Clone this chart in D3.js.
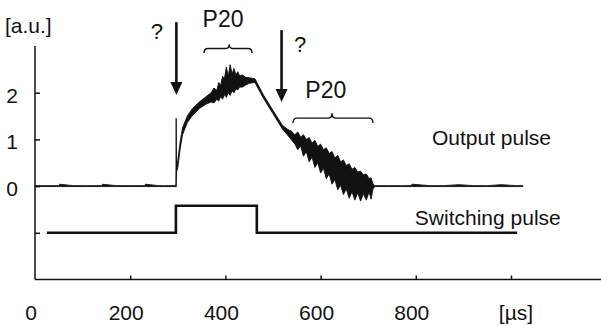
<!doctype html>
<html>
<head>
<meta charset="UTF-8">
<script src="https://d3js.org/d3.v7.min.js"></script>
<style>
  body { margin: 0; background: #fff; }
  svg text { font-family: "Liberation Sans", Arial, sans-serif; fill: #111; }
</style>
</head>
<body>
<svg id="chart"></svg>
<script>
// time axis [µs]
const xTicks = [0, 200, 400, 600, 800, 1000];
const xTickLabels = ["0", "200", "400", "600", "800", "[\u00b5s]"];
// amplitude axis [a.u.]
const yTicks = [2, 1, 0, -1];
const yTickLabels = ["2", "1", "0", ""];

// output pulse: time, upper and lower edge of the trace (oscillation band)
const outT  = [0, 25, 50, 52, 80, 110, 140, 142, 170, 200, 230, 232, 260, 270, 295,
  296, 296.6, 297.4, 300, 305, 310, 320, 330, 345, 360, 370, 376, 382, 386, 390, 394, 398, 402, 406, 410, 414, 418, 422, 426, 430, 436, 442, 450, 462,
  480, 500, 520, 530, 538, 546, 552, 558, 564, 570, 576, 582, 588, 594, 600, 606, 612, 618, 624, 630, 636, 642, 648, 654, 660, 666, 672, 678, 684, 690, 696, 702, 706, 710, 714,
  740, 770, 790, 792, 830, 860, 890, 920, 950, 980, 1010, 1025];
const outHi = [0.01, 0.01, 0.01, 0.04, 0.01, 0.01, 0.01, 0.04, 0.01, 0.01, 0.01, 0.04, 0.01, 0.01, 0.01,
  0.01, 1.45, 0.45, 0.55, 0.95, 1.25, 1.5, 1.65, 1.8, 1.92, 2.0, 2.1, 2.05, 2.22, 2.15, 2.35, 2.3, 2.55, 2.35, 2.6, 2.4, 2.52, 2.38, 2.45, 2.36, 2.38, 2.33, 2.32, 2.3,
  1.95, 1.62, 1.3, 1.22, 1.18, 1.1, 1.16, 1.05, 1.1, 1.0, 1.04, 0.92, 0.98, 0.85, 0.9, 0.78, 0.82, 0.7, 0.74, 0.6, 0.66, 0.52, 0.56, 0.44, 0.48, 0.36, 0.4, 0.3, 0.32, 0.24, 0.26, 0.16, 0.18, 0.04, 0.01,
  0.01, 0.01, 0.01, 0.04, 0.01, 0.01, 0.03, 0.01, 0.01, 0.03, 0.01, 0.01];
const outLo = [-0.01, -0.01, -0.01, -0.01, -0.01, -0.01, -0.01, -0.01, -0.01, -0.01, -0.01, -0.01, -0.01, -0.01, -0.01,
  -0.02, -0.02, 0.3, 0.4, 0.8, 1.1, 1.36, 1.5, 1.66, 1.76, 1.8, 1.78, 1.86, 1.82, 1.92, 1.86, 1.96, 1.9, 2.0, 1.94, 2.04, 2.0, 2.08, 2.06, 2.12, 2.12, 2.16, 2.2, 2.22,
  1.88, 1.55, 1.22, 1.1, 1.0, 0.9, 0.78, 0.86, 0.64, 0.74, 0.52, 0.62, 0.4, 0.5, 0.28, 0.38, 0.16, 0.26, 0.04, 0.14, -0.08, 0.02, -0.18, -0.06, -0.26, -0.12, -0.3, -0.14, -0.32, -0.16, -0.3, -0.12, -0.28, -0.06, -0.01,
  -0.01, -0.01, -0.01, -0.01, -0.01, -0.01, -0.01, -0.01, -0.01, -0.01, -0.01, -0.01];

// switching pulse
const swT = [25, 296, 296, 466, 466, 1013];
const swV = [-1, -1, -0.42, -0.42, -1, -1];

(function () {
  const W = 601, H = 326;
  const svg = d3.select("#chart").attr("width", W).attr("height", H);

  const x = d3.scaleLinear().domain([0, 1000]).range([35, 511]);
  const y = d3.scaleLinear().domain([-2, 3]).range([279.5, 46]);

  // axes
  const xAxis = d3.axisBottom(x).tickValues(xTicks.slice(1)).tickSizeInner(-4).tickSizeOuter(0).tickFormat("");
  const gx = svg.append("g").attr("transform", "translate(0," + y(-2) + ")").call(xAxis);
  gx.select(".domain").attr("d", "M" + x(0) + ",0H" + W);
  gx.selectAll("path, line").attr("stroke", "#111").attr("stroke-width", 1.5);

  const yAxis = d3.axisLeft(y).tickValues(yTicks).tickSizeInner(-5).tickSizeOuter(0).tickFormat("");
  const gy = svg.append("g").attr("transform", "translate(" + x(0) + ",0)").call(yAxis);
  gy.select(".domain").attr("d", "M0," + y(3) + "V" + y(-2));
  gy.selectAll("path, line").attr("stroke", "#111").attr("stroke-width", 1.5);

  svg.selectAll(".xlab").data(xTicks).enter().append("text")
    .attr("x", (d, i) => x(d) - 4 + (i === xTicks.length - 1 ? 9 : 0))
    .attr("y", 320)
    .attr("text-anchor", "middle")
    .style("font-size", "21px")
    .text((d, i) => xTickLabels[i]);

  svg.selectAll(".ylab").data(yTicks).enter().append("text")
    .attr("x", 12)
    .attr("y", d => y(d) + 10)
    .attr("text-anchor", "middle")
    .style("font-size", "21px")
    .text((d, i) => yTickLabels[i]);

  svg.append("text").attr("x", 5).attr("y", 33).style("font-size", "21px").text("[a.u.]");

  // output pulse
  const outData = outT.map((t, i) => ({ t: t, hi: outHi[i], lo: outLo[i] }));
  svg.append("path").datum(outData)
    .attr("fill", "#111").attr("stroke", "#111").attr("stroke-width", 0.9)
    .attr("stroke-linejoin", "round")
    .attr("d", d3.area().x(d => x(d.t)).y0(d => y(d.lo)).y1(d => y(d.hi)));

  // switching pulse
  const swData = swT.map((t, i) => ({ t: t, v: swV[i] }));
  svg.append("path").datum(swData)
    .attr("fill", "none").attr("stroke", "#111").attr("stroke-width", 2.6)
    .attr("d", d3.line().x(d => x(d.t)).y(d => y(d.v)));

  // annotations
  function arrow(t, vTop, vTip) {
    const ax = x(t), y0 = y(vTop), y1 = y(vTip);
    svg.append("line").attr("x1", ax).attr("x2", ax).attr("y1", y0).attr("y2", y1 - 10)
      .attr("stroke", "#111").attr("stroke-width", 2.6);
    svg.append("path").attr("fill", "#111")
      .attr("d", "M" + (ax - 6) + "," + (y1 - 13) + "L" + (ax + 6) + "," + (y1 - 13) + "L" + ax + "," + y1 + "Z");
  }
  arrow(297, 3.51, 1.95);
  arrow(518, 3.34, 1.8);

  function brace(t0, t1, tm, vEnd, vTip) {
    const x0 = x(t0), x1 = x(t1), xm = x(tm), ye = y(vEnd), yt = y(vTip);
    const ym = (ye + yt) / 2, r = 4;
    const d = "M" + x0 + "," + ye + "Q" + x0 + "," + ym + " " + (x0 + r) + "," + ym +
      "L" + (xm - r) + "," + ym + "Q" + xm + "," + ym + " " + xm + "," + yt +
      "Q" + xm + "," + ym + " " + (xm + r) + "," + ym +
      "L" + (x1 - r) + "," + ym + "Q" + x1 + "," + ym + " " + x1 + "," + ye;
    svg.append("path").attr("d", d).attr("fill", "none").attr("stroke", "#111").attr("stroke-width", 1.4);
  }
  brace(355, 456, 408, 2.85, 3.04);
  brace(542, 710, 624, 1.35, 1.56);

  const notes = [
    { t: 256, v: 3.15, s: "?", size: 22, anchor: "middle" },
    { t: 557, v: 2.87, s: "?", size: 22, anchor: "middle" },
    { t: 395, v: 3.4, s: "P20", size: 23, anchor: "middle" },
    { t: 611, v: 1.88, s: "P20", size: 23, anchor: "middle" },
    { t: 834, v: 0.88, s: "Output pulse", size: 21, anchor: "start" },
    { t: 798, v: -0.83, s: "Switching pulse", size: 21, anchor: "start" }
  ];
  svg.selectAll(".note").data(notes).enter().append("text")
    .attr("x", d => x(d.t)).attr("y", d => y(d.v))
    .attr("text-anchor", d => d.anchor)
    .style("font-size", d => d.size + "px")
    .text(d => d.s);
})();
</script>
</body>
</html>
